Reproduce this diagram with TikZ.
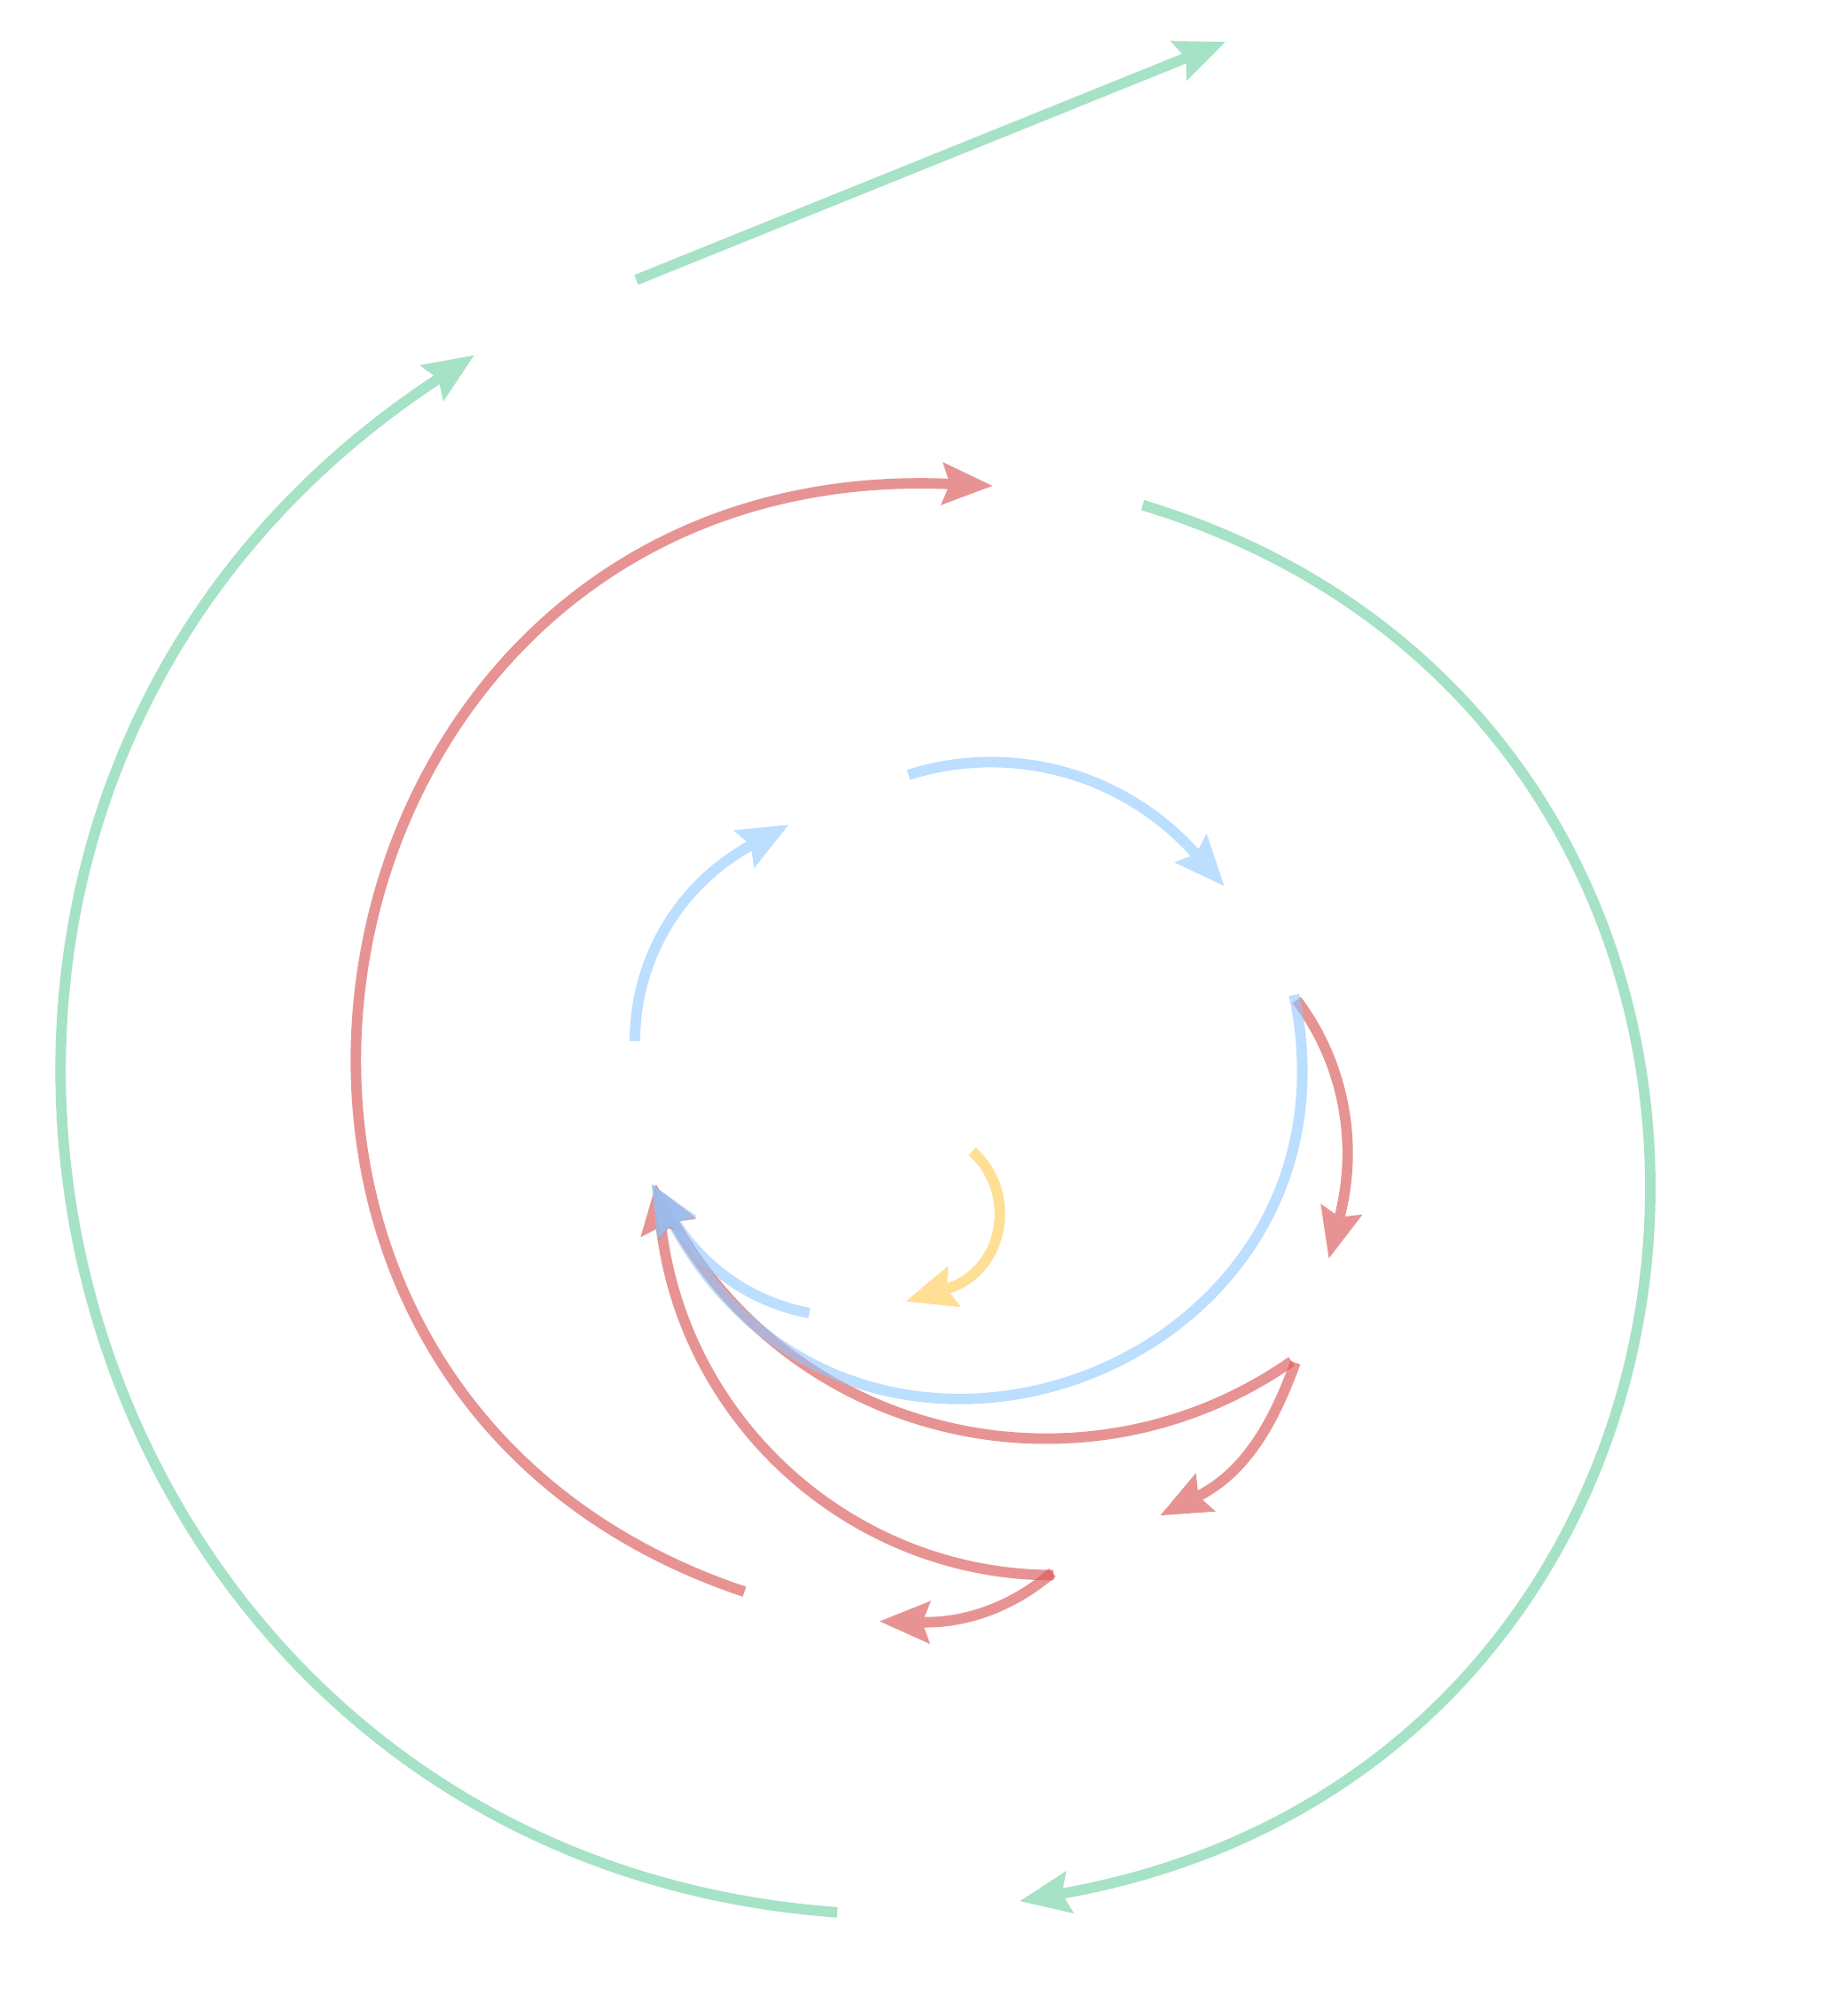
\documentclass[tikz,border=0pt]{standalone}
\usetikzlibrary{arrows.meta}
\definecolor{cgreen}{HTML}{6CD0A0}
\definecolor{cred}{HTML}{DC5A5A}
\definecolor{cblue}{HTML}{90C8FF}
\definecolor{cyellow}{HTML}{FFC850}
\tikzset{
  link/.style={line width=0.165cm, shorten >=-0.67cm, -{Stealth[length=0.8cm, width=0.68cm, inset=0.13cm, line width=0pt]}},
  glink/.style={link, draw=cgreen},
  rlink/.style={link, draw=cred},
  blink/.style={link, draw=cblue},
  ylink/.style={link, draw=cyellow},
}
\newcommand\mylink[3]{\begin{scope}[transparency group, opacity=#1]\draw[#2] #3;\end{scope}}
\begin{document}
\begin{tikzpicture}[x=0.02cm, y=0.02cm]
\fill[white] (0,0) rectangle (1452,-1568);
\useasboundingbox (0,0) rectangle (1452,-1568);
% invisible node anchors (line ends; arrow tips extend beyond)
\coordinate (g1s) at (500,-220);
\coordinate (g1e) at (932,-45.5);
\coordinate (g2s) at (658,-1503);
\coordinate (g2e) at (344.5,-297.7);
\coordinate (g3s) at (898,-397);
\coordinate (g3e) at (834.6,-1488.3);
\coordinate (r1s) at (585,-1251);
\coordinate (r1e) at (746.5,-380.4);
\coordinate (r2s) at (1019,-786);
\coordinate (r2e) at (1052.7,-956.6);
\coordinate (r3s) at (1018,-1071);
\coordinate (r3e) at (941.8,-1175.8);
\coordinate (r4s) at (827,-1236);
\coordinate (r4e) at (724.8,-1275);
\coordinate (r5s) at (1015,-1070);
\coordinate (r5e) at (529.4,-960.4);
\coordinate (r6s) at (828,-1238);
\coordinate (r6e) at (519.5,-964);
\coordinate (b1s) at (499,-818);
\coordinate (b1e) at (590.2,-664.4);
\coordinate (b2s) at (714,-609);
\coordinate (b2e) at (939.8,-671.3);
\coordinate (b3s) at (1017,-782);
\coordinate (b3e) at (528.4,-960.7);
\coordinate (b4s) at (636,-1032);
\coordinate (b4e) at (529.6,-959.3);
\coordinate (y1s) at (764,-905);
\coordinate (y1e) at (744,-1013);
% green
\mylink{0.6}{glink}{(g1s) -- (g1e)}
\mylink{0.6}{glink}{(g2s) to[out=175.9, in=213.3, looseness=1.289] (g2e)}
\mylink{0.6}{glink}{(g3s) to[out=-16.8, in=10.1, looseness=1.381] (g3e)}
% red
\mylink{0.65}{rlink}{(r1s) to[out=161.5, in=177.5, looseness=1.495] (r1e)}
\mylink{0.65}{rlink}{(r2s) to[out=-53, in=75.5, looseness=0.896] (r2e)}
\mylink{0.65}{rlink}{(r3s) to[out=-110, in=27, looseness=0.88] (r3e)}
\mylink{0.65}{rlink}{(r4s) to[out=-139.2, in=-1.2, looseness=0.88] (r4e)}
\mylink{0.65}{rlink}{(r5s) to[out=-145.1, in=-60.6, looseness=1.018] (r5e)}
\mylink{0.65}{rlink}{(r6s) to[out=180, in=-83.2, looseness=0.974] (r6e)}
% blue
\mylink{0.6}{blink}{(b1s) to[out=90, in=208.6, looseness=0.916] (b1e)}
\mylink{0.6}{blink}{(b2s) to[out=17.6, in=131.6, looseness=0.926] (b2e)}
\mylink{0.6}{blink}{(b3s) to[out=-78.1, in=-61.7, looseness=1.49] (b3e)}
\mylink{0.6}{blink}{(b4s) to[out=169.5, in=-58.4, looseness=0.89] (b4e)}
% yellow
\mylink{0.6}{ylink}{(y1s) to[out=-41.5, in=17, looseness=1.12] (y1e)}
\end{tikzpicture}
\end{document}
